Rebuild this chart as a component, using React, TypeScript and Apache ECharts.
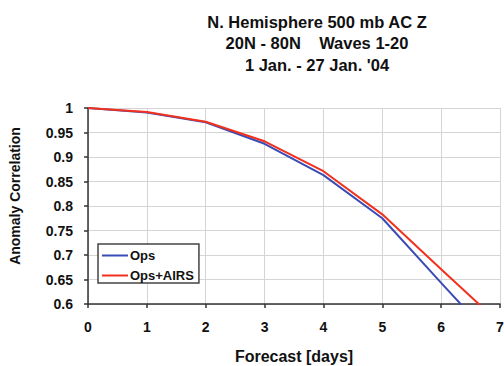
import React, { useEffect, useRef } from "react";
import * as echarts from "echarts";

const days = [0, 1, 2, 3, 4, 5, 6, 7];
const opsValues = [1.0, 0.991, 0.971, 0.927, 0.863, 0.775, 0.643, 0.513];
const opsAirsValues = [1.0, 0.992, 0.972, 0.932, 0.871, 0.783, 0.671, 0.56];
const titleLines = ["N. Hemisphere 500 mb AC Z", "20N - 80N    Waves 1-20", "1 Jan. - 27 Jan. '04"];
const yAxisTitle = "Anomaly Correlation";
const xAxisTitle = "Forecast [days]";

const FONT = "'Liberation Sans', Arial, sans-serif";

export default function App() {
  const ref = useRef<HTMLDivElement>(null);
  useEffect(() => {
    if (!ref.current) return;
    const chart = echarts.init(ref.current, null, { renderer: "svg" });
    chart.setOption({
      animation: false,
      backgroundColor: "#ffffff",
      textStyle: { fontFamily: FONT },
      title: {
        text: titleLines.join("\n"),
        left: 312,
        top: 6,
        textAlign: "center",
        textStyle: { fontFamily: FONT, fontSize: 16.5, fontWeight: "bold", color: "#111", lineHeight: 21.5 },
      },
      legend: {
        orient: "vertical",
        left: 98,
        top: 244,
        padding: [5, 5, 1, 4],
        borderColor: "#444",
        borderWidth: 1.5,
        backgroundColor: "#fff",
        itemWidth: 26,
        itemHeight: 14,
        itemGap: 7,
        icon: "path://M0,6 L26,6 L26,8 L0,8 Z",
        textStyle: { fontFamily: FONT, fontSize: 13, fontWeight: "bold", color: "#111", padding: [0, 0, 0, -3] },
        data: ["Ops", "Ops+AIRS"],
      },
      graphic: [
        {
          type: "text",
          x: 15,
          y: 196,
          rotation: Math.PI / 2,
          style: {
            text: yAxisTitle,
            fontFamily: FONT,
            fontSize: 14,
            fontWeight: "bold",
            fill: "#111",
            align: "center",
            verticalAlign: "middle",
          },
        },
      ],
      grid: { left: 88, right: 4, top: 108, bottom: 62, containLabel: false, outerBoundsMode: "none" },
      xAxis: {
        type: "value",
        min: 0,
        max: 7,
        interval: 1,
        name: xAxisTitle,
        nameLocation: "middle",
        nameGap: 44,
        nameTextStyle: { fontFamily: FONT, fontSize: 16, fontWeight: "bold", color: "#111" },
        axisLine: { lineStyle: { color: "#333", width: 1.5 } },
        axisTick: { show: true, inside: false, length: 4, lineStyle: { color: "#333", width: 1.5 } },
        axisLabel: { fontFamily: FONT, fontSize: 14, fontWeight: "bold", color: "#111", margin: 16 },
        splitLine: { show: true, lineStyle: { color: "#d4d4d4", width: 1 } },
      },
      yAxis: {
        type: "value",
        min: 0.6,
        max: 1,
        interval: 0.05,
        axisLine: { show: true, lineStyle: { color: "#333", width: 1.5 } },
        axisTick: { show: true, inside: false, length: 4, lineStyle: { color: "#333", width: 1.5 } },
        axisLabel: {
          fontFamily: FONT,
          fontSize: 14,
          fontWeight: "bold",
          color: "#111",
          margin: 15,
          formatter: (v: number) => String(parseFloat(v.toFixed(2))),
        },
        splitLine: { show: true, lineStyle: { color: "#d4d4d4", width: 1 } },
      },
      series: [
        {
          name: "Ops",
          type: "line",
          data: days.map((d, i) => [d, opsValues[i]]),
          showSymbol: false,
          symbol: "none",
          clip: true,
          lineStyle: { color: "#3a4cb4", width: 2 },
          itemStyle: { color: "#3a4cb4" },
        },
        {
          name: "Ops+AIRS",
          type: "line",
          data: days.map((d, i) => [d, opsAirsValues[i]]),
          showSymbol: false,
          symbol: "none",
          clip: true,
          lineStyle: { color: "#f2301e", width: 2 },
          itemStyle: { color: "#f2301e" },
        },
      ],
    });
    return () => chart.dispose();
  }, []);
  return <div ref={ref} style={{ width: 504, height: 366, position: "absolute", left: 0, top: 0 }} />;
}
